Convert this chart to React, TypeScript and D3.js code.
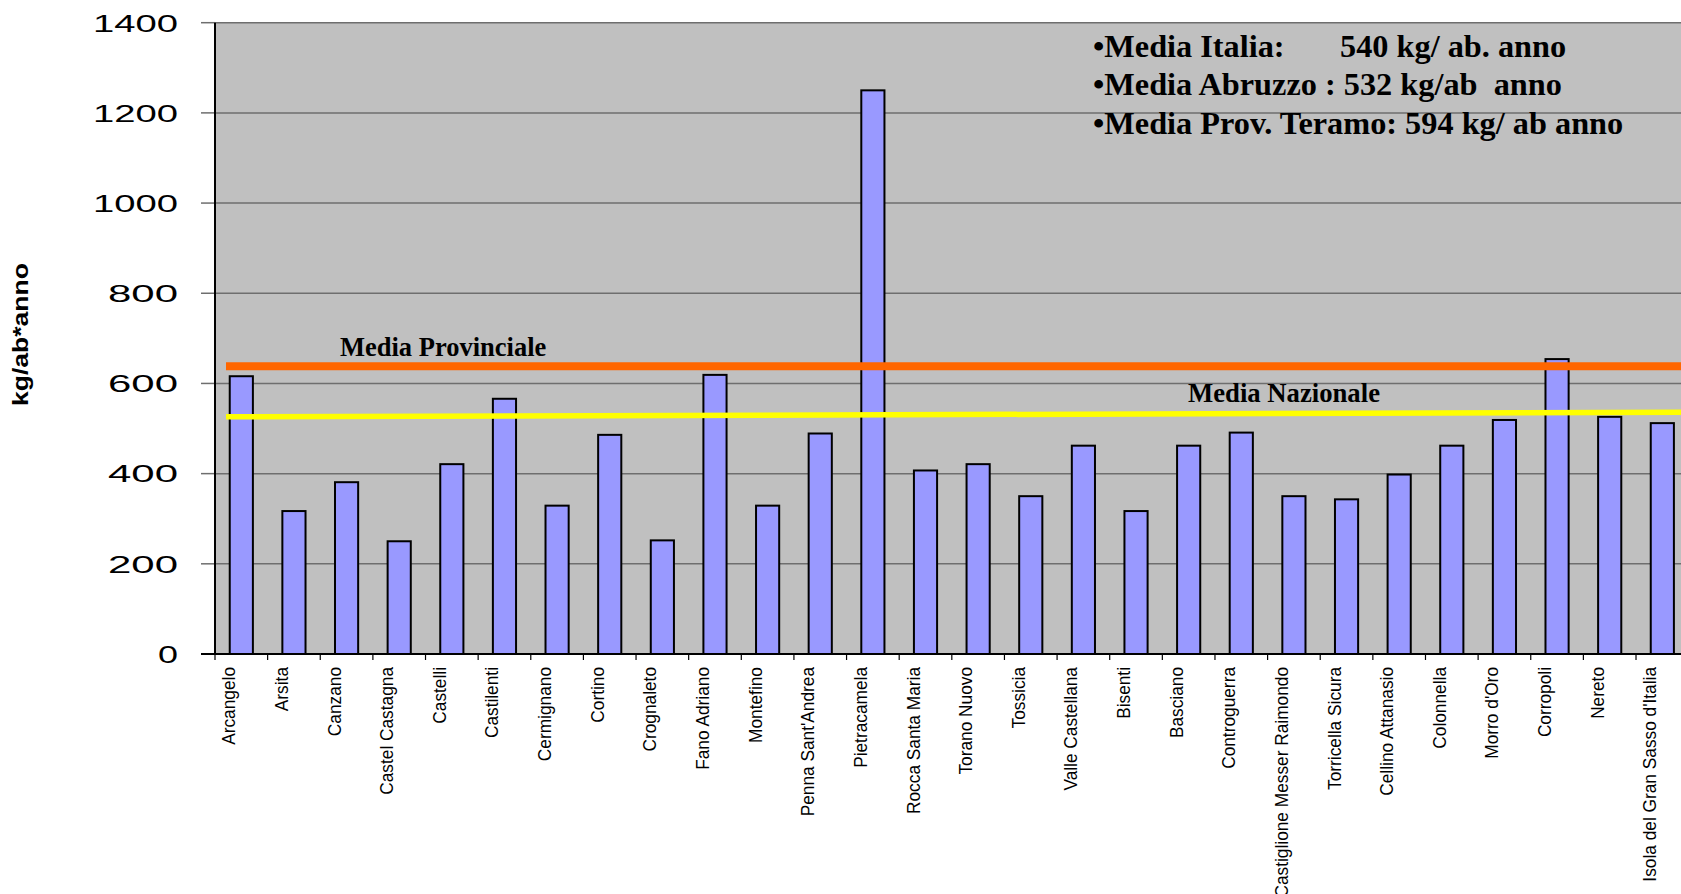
import { useEffect } from 'react'
import * as d3 from 'd3'

const comuni = [
  'Arcangelo', 'Arsita', 'Canzano', 'Castel Castagna', 'Castelli', 'Castilenti',
  'Cermignano', 'Cortino', 'Crognaleto', 'Fano Adriano', 'Montefino',
  "Penna Sant'Andrea", 'Pietracamela', 'Rocca Santa Maria', 'Torano Nuovo',
  'Tossicia', 'Valle Castellana', 'Bisenti', 'Basciano', 'Controguerra',
  'Castiglione Messer Raimondo', 'Torricella Sicura', 'Cellino Attanasio',
  'Colonnella', "Morro d'Oro", 'Corropoli', 'Nereto', "Isola del Gran Sasso d'Italia"
]

const kgPerAbitante = [
  616, 317, 381, 250, 421, 566, 329, 486, 252, 619, 329, 489, 1250, 407, 421,
  350, 462, 317, 462, 491, 350, 343, 398, 462, 519, 654, 526, 512
]

const yTicks = [0, 200, 400, 600, 800, 1000, 1200, 1400]

// media provinciale (flat) and media nazionale (slightly tilted as in the source)
const mediaProvinciale = [638, 638]
const mediaNazionale = [526, 536]

const legendLines = [
  ['•Media Italia:', '540 kg/ ab. anno'],
  ['•Media Abruzzo : 532 kg/ab  anno'],
  ['•Media Prov. Teramo: 594 kg/ ab anno']
]

const W = 1681
const H = 894
const left = 215
const step = 52.63
const top = 22.7
const bottom = 654

// wide, stretched tick digits like the original
const tickWidth = (t: number) => {
  const n = String(t).length
  return n === 4 ? 85 : n === 3 ? 70 : 20
}

export default function App() {
  useEffect(() => {
    document.body.style.margin = '0'
  }, [])

  const right = left + step * comuni.length

  const x = d3
    .scaleBand<string>()
    .domain(comuni)
    .range([left, right])
    .paddingInner(0.56)
    .paddingOuter(0.28)

  const y = d3.scaleLinear().domain([0, 1400]).range([bottom, top])

  const lineX = d3.scaleLinear().domain([0, 1]).range([226, right])
  const meanLine = d3
    .line<number>()
    .x((_, i) => lineX(i))
    .y(d => y(d))

  const serif = '"Liberation Serif", "Times New Roman", serif'
  const sans = '"Liberation Sans", Arial, sans-serif'

  return (
    <svg width={W} height={H} style={{ display: 'block', background: '#fff' }}>
      <rect x={left} y={top} width={right - left} height={bottom - top} fill="#c0c0c0" />

      {yTicks.map(t => (
        <g key={t}>
          {t > 0 && (
            <line x1={left} x2={right} y1={y(t)} y2={y(t)} stroke="#6e6e6e" strokeWidth={1.5} />
          )}
          <line x1={201} x2={left} y1={y(t)} y2={y(t)} stroke="#6e6e6e" strokeWidth={1.5} />
          <text
            x={178}
            y={y(t)}
            dy="0.36em"
            textAnchor="end"
            fontFamily={sans}
            fontSize={24.5}
            textLength={tickWidth(t)}
            lengthAdjust="spacingAndGlyphs"
            fill="#000"
          >
            {t}
          </text>
        </g>
      ))}

      {comuni.map((c, i) => (
        <rect
          key={c}
          x={x(c)}
          y={y(kgPerAbitante[i])}
          width={x.bandwidth()}
          height={y(0) - y(kgPerAbitante[i])}
          fill="#9999ff"
          stroke="#000"
          strokeWidth={2}
        />
      ))}

      <path d={meanLine(mediaProvinciale) ?? ''} stroke="#ff6600" strokeWidth={8} fill="none" />
      <path d={meanLine(mediaNazionale) ?? ''} stroke="#ffff00" strokeWidth={5.5} fill="none" />

      <text x={340} y={356} fontFamily={serif} fontWeight="bold" fontSize={26.5} fill="#000">
        Media Provinciale
      </text>
      <text x={1188} y={402} fontFamily={serif} fontWeight="bold" fontSize={26.7} fill="#000">
        Media Nazionale
      </text>

      <line x1={left} x2={left} y1={top} y2={bottom} stroke="#000" strokeWidth={2} />
      <line x1={201} x2={right} y1={bottom} y2={bottom} stroke="#000" strokeWidth={2} />
      {d3.range(comuni.length + 1).map(i => (
        <line
          key={i}
          x1={left + step * i}
          x2={left + step * i}
          y1={bottom}
          y2={bottom + 6}
          stroke="#000"
          strokeWidth={1.2}
        />
      ))}

      {comuni.map(c => {
        const cx = (x(c) ?? 0) + x.bandwidth() / 2 - 6
        return (
          <text
            key={c}
            transform={`translate(${cx},667) rotate(-90) scale(0.91,1)`}
            textAnchor="end"
            fontFamily={sans}
            fontSize={19}
            fill="#000"
          >
            {c}
          </text>
        )
      })}

      <text
        transform="translate(28,334.5) rotate(-90)"
        textAnchor="middle"
        fontFamily={sans}
        fontWeight="bold"
        fontSize={22}
        textLength={143}
        lengthAdjust="spacingAndGlyphs"
        fill="#000"
      >
        kg/ab*anno
      </text>

      {legendLines.map((parts, i) => (
        <text
          key={i}
          x={1093}
          y={57 + i * 38.3}
          fontFamily={serif}
          fontWeight="bold"
          fontSize={32.3}
          fill="#000"
          style={{ whiteSpace: 'pre' }}
        >
          <tspan>{parts[0]}</tspan>
          {parts[1] && <tspan x={1340}>{parts[1]}</tspan>}
        </text>
      ))}
    </svg>
  )
}
